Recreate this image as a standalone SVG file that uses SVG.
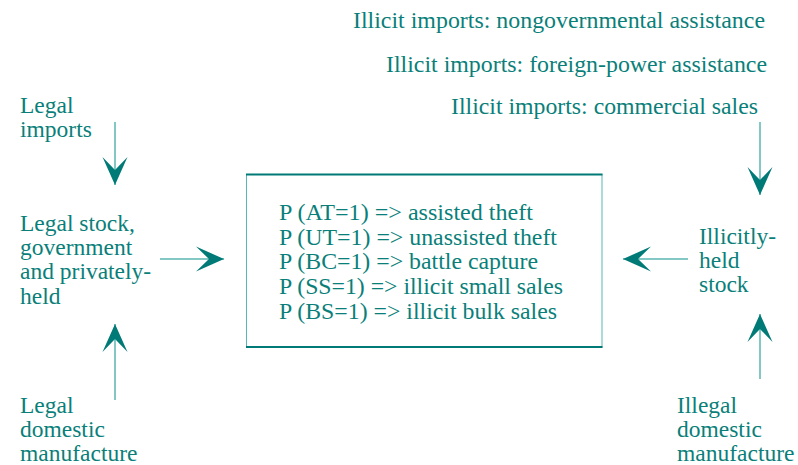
<svg xmlns="http://www.w3.org/2000/svg" width="798" height="465" viewBox="0 0 798 465">
<defs>
<style>
text{font-family:"Liberation Serif","Times New Roman",serif;font-size:23.5px;fill:#0a7f7a}
.c{stroke:#5ab6b2;stroke-width:1.5;fill:none}
</style>
<marker id="ah" viewBox="-30 -15 32 30" markerWidth="32" markerHeight="30" refX="0" refY="0" orient="auto" markerUnits="userSpaceOnUse">
<path d="M0,0 L-28,-12.5 L-15,0 L-28,12.5 Z" fill="#007a76"/>
</marker>
</defs>
<rect width="798" height="465" fill="#fff"/>
<g id="top-labels">
<text x="353" y="28" textLength="412" lengthAdjust="spacingAndGlyphs">Illicit imports: nongovernmental assistance</text>
<text x="386" y="72" textLength="381" lengthAdjust="spacingAndGlyphs">Illicit imports: foreign-power assistance</text>
<text x="451" y="114" textLength="307" lengthAdjust="spacingAndGlyphs">Illicit imports: commercial sales</text>
</g>
<g id="legal-imports"><text x="20" y="113">Legal</text><text x="20" y="137">imports</text></g>
<g id="legal-stock"><text x="20" y="231">Legal stock,</text><text x="20" y="255">government</text><text x="20" y="279">and privately-</text><text x="20" y="304">held</text></g>
<g id="legal-manufacture"><text x="20" y="413">Legal</text><text x="20" y="437">domestic</text><text x="20" y="461">manufacture</text></g>
<g id="illicit-stock"><text x="699" y="244">Illicitly-</text><text x="699" y="268">held</text><text x="699" y="292">stock</text></g>
<g id="illegal-manufacture"><text x="677" y="413">Illegal</text><text x="677" y="437">domestic</text><text x="677" y="461">manufacture</text></g>
<g id="center-box">
<rect x="246.5" y="174.5" width="355.5" height="172.5" fill="none" stroke="#5ab6b2" stroke-width="1"/>
<line x1="246" y1="174.5" x2="602.5" y2="174.5" stroke="#007a76" stroke-width="2"/>
<line x1="246" y1="347" x2="602.5" y2="347" stroke="#007a76" stroke-width="2"/>
<text x="279" y="220" textLength="254" lengthAdjust="spacingAndGlyphs">P (AT=1) =&gt; assisted theft</text>
<text x="279" y="245" textLength="278" lengthAdjust="spacingAndGlyphs">P (UT=1) =&gt; unassisted theft</text>
<text x="279" y="269" textLength="259" lengthAdjust="spacingAndGlyphs">P (BC=1) =&gt; battle capture</text>
<text x="279" y="294" textLength="284" lengthAdjust="spacingAndGlyphs">P (SS=1) =&gt; illicit small sales</text>
<text x="279" y="319" textLength="278" lengthAdjust="spacingAndGlyphs">P (BS=1) =&gt; illicit bulk sales</text>
</g>
<g id="connectors">
<line class="c" x1="115" y1="122" x2="115" y2="185" marker-end="url(#ah)"/>
<line class="c" x1="115" y1="400" x2="115" y2="324" marker-end="url(#ah)"/>
<line class="c" x1="160" y1="259" x2="224" y2="259" marker-end="url(#ah)"/>
<line class="c" x1="688" y1="259" x2="623" y2="259" marker-end="url(#ah)"/>
<line class="c" x1="760" y1="122" x2="760" y2="195" marker-end="url(#ah)"/>
<line class="c" x1="760" y1="379" x2="760" y2="314" marker-end="url(#ah)"/>
</g>
</svg>
